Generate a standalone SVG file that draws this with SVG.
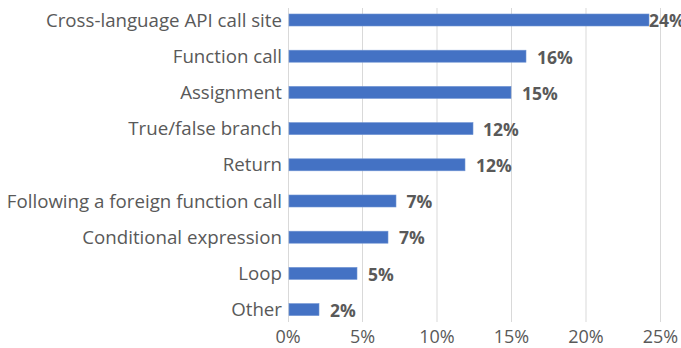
<svg xmlns="http://www.w3.org/2000/svg" width="681" height="348" viewBox="0 0 681 348">
<style>
.cat{font-family:"Open Sans","Liberation Sans",sans-serif;font-size:18.7px;fill:#595959;text-anchor:end}
.val{font-family:"Open Sans","Liberation Sans",sans-serif;font-size:17.5px;font-weight:bold;fill:#595959}
.tick{font-family:"Open Sans","Liberation Sans",sans-serif;font-size:18px;fill:#595959;text-anchor:middle}
.grid{stroke:#d9d9d9;stroke-width:1}
.bar{fill:#4472C4;stroke:#6f93d3;stroke-width:0.6}
</style>
<rect width="681" height="348" fill="#ffffff"/>
<g id="grid">
<line class="grid" x1="362.5" y1="8" x2="362.5" y2="322"/>
<line class="grid" x1="437" y1="8" x2="437" y2="322"/>
<line class="grid" x1="511.5" y1="8" x2="511.5" y2="322"/>
<line class="grid" x1="586" y1="8" x2="586" y2="322"/>
<line class="grid" x1="660.5" y1="8" x2="660.5" y2="322"/>
<line class="grid" x1="288.5" y1="8" x2="288.5" y2="322"/>
</g>
<g id="ticks">
<text class="tick" x="288" y="343">0%</text>
<text class="tick" x="362.5" y="343">5%</text>
<text class="tick" x="437" y="343">10%</text>
<text class="tick" x="511.5" y="343">15%</text>
<text class="tick" x="586" y="343">20%</text>
<text class="tick" x="660.5" y="343">25%</text>
</g>
<g id="row1"><text class="cat" x="282" y="26.5">Cross-language API call site</text><rect class="bar" x="289" y="14" width="360" height="12"/><text class="val" x="649" y="27">24%</text></g>
<g id="row2"><text class="cat" x="282" y="62.7">Function call</text><rect class="bar" x="289" y="50.2" width="237" height="12"/><text class="val" x="537" y="63.5">16%</text></g>
<g id="row3"><text class="cat" x="282" y="98.9">Assignment</text><rect class="bar" x="289" y="86.4" width="222" height="12"/><text class="val" x="522" y="99.5">15%</text></g>
<g id="row4"><text class="cat" x="282" y="135.1">True/false branch</text><rect class="bar" x="289" y="122.6" width="184" height="12"/><text class="val" x="483" y="135.5">12%</text></g>
<g id="row5"><text class="cat" x="282" y="171.3">Return</text><rect class="bar" x="289" y="158.8" width="176" height="12"/><text class="val" x="476" y="171.5">12%</text></g>
<g id="row6"><text class="cat" x="282" y="207.5">Following a foreign function call</text><rect class="bar" x="289" y="195" width="107" height="12"/><text class="val" x="406.5" y="208">7%</text></g>
<g id="row7"><text class="cat" x="282" y="243.7">Conditional expression</text><rect class="bar" x="289" y="231.2" width="99" height="12"/><text class="val" x="399" y="244">7%</text></g>
<g id="row8"><text class="cat" x="282" y="279.9">Loop</text><rect class="bar" x="289" y="267.4" width="68" height="12"/><text class="val" x="368" y="280.5">5%</text></g>
<g id="row9"><text class="cat" x="282" y="316.1">Other</text><rect class="bar" x="289" y="303.6" width="30" height="12"/><text class="val" x="330" y="316.5">2%</text></g>
</svg>
